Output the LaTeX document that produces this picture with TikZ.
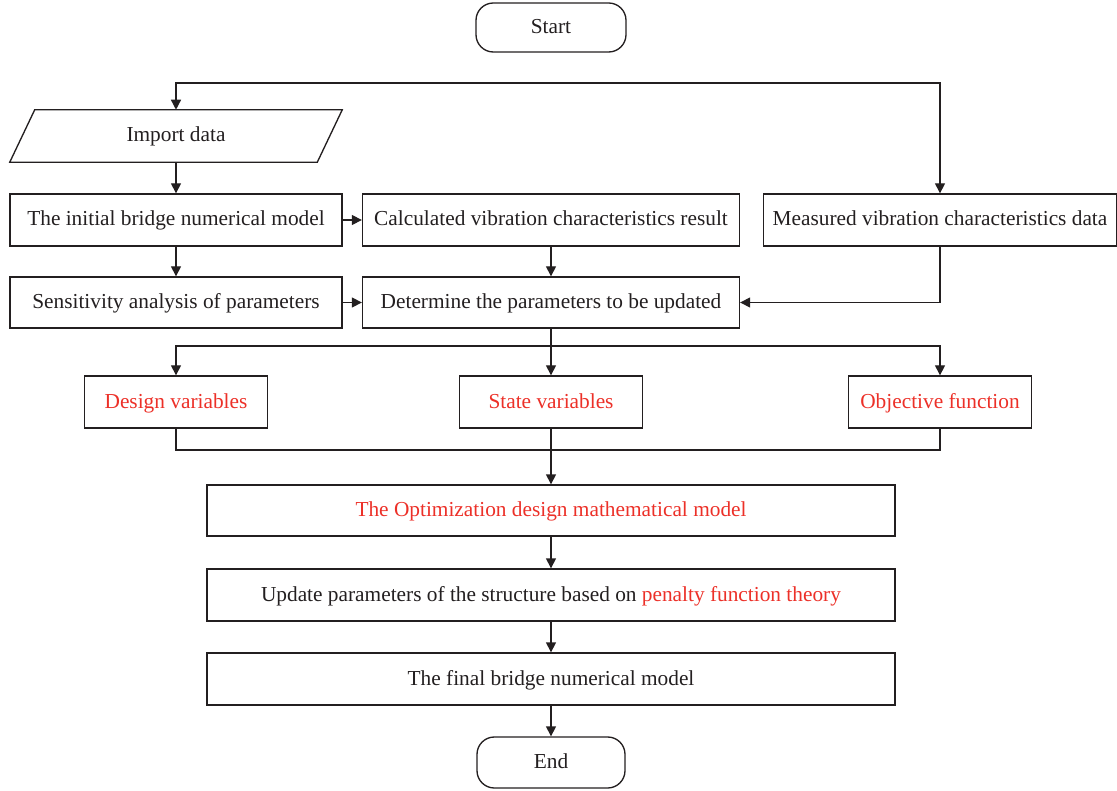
\documentclass[tikz,border=0pt]{standalone}
\usepackage{fontspec}
\setmainfont{Liberation Serif}
\usetikzlibrary{arrows.meta,positioning}
\definecolor{ink}{RGB}{35,31,32}
\definecolor{hl}{RGB}{236,48,40}
\tikzset{
  txt/.style={inner sep=0pt, text=ink, font=\fontsize{16}{18}\selectfont, text height=11pt, text depth=2pt},
  box/.style={txt, draw=ink, line width=1pt, rectangle},
  term/.style={box, rounded corners=13pt},
  arr/.style={draw=ink, line width=1pt, -{Triangle[length=7.5pt,width=7.5pt]}},
  ln/.style={draw=ink, line width=1pt},
}
\begin{document}
\begin{tikzpicture}[x=0.75pt,y=-0.75pt]
\useasboundingbox (0,0) rectangle (1117,791);

\node[term, minimum width=112.5pt, minimum height=36.75pt] (start) at (551,27.5) {Start};

\node[txt, minimum width=230.25pt, minimum height=39pt] (imp) at (176,136) {Import data};
\draw[ln] ([xshift=-9.375pt]imp.south west) -- ([xshift=-9.375pt]imp.south east)
  -- ([xshift=9.375pt]imp.north east) -- ([xshift=9.375pt]imp.north west) -- cycle;

\node[box, minimum width=249pt, minimum height=39pt] (init) at (176,220) {The initial bridge numerical model};
\node[box, minimum width=282.75pt, minimum height=39pt] (calc) at (551,220) {Calculated vibration characteristics result};
\node[box, minimum width=264.75pt, minimum height=39pt] (meas) at (940,220) {Measured vibration characteristics data};

\node[box, minimum width=249pt, minimum height=38.25pt] (sens) at (176,302.5) {Sensitivity analysis of parameters};
\node[box, minimum width=282.75pt, minimum height=38.25pt] (det) at (551,302.5) {Determine the parameters to be updated};

\node[box, text=hl, minimum width=137.25pt, minimum height=39pt] (design) at (176,402) {Design variables};
\node[box, text=hl, minimum width=137.25pt, minimum height=39pt] (state) at (551,402) {State variables};
\node[box, text=hl, minimum width=137.25pt, minimum height=39pt] (obj) at (940,402) {Objective function};

\node[box, text=hl, minimum width=516pt, minimum height=38.25pt] (opt) at (551,510.5) {The Optimization design mathematical model};
\node[box, minimum width=516pt, minimum height=39pt] (upd) at (551,595) {Update parameters of the structure based on \textcolor{hl}{penalty function theory}};
\node[box, minimum width=516pt, minimum height=39pt] (fin) at (551,679) {The final bridge numerical model};

\node[term, minimum width=111pt, minimum height=38.25pt] (end) at (551,762.5) {End};

\coordinate (top) at (551,83);
\coordinate (split) at (551,346);
\coordinate (join) at (551,450);

\draw[arr] (top) -| (imp.north);
\draw[arr] (top) -| (meas.north);
\draw[arr] (imp.south) -- (init.north);
\draw[arr] (init.east) -- (calc.west);
\draw[arr] (init.south) -- (sens.north);
\draw[arr] (calc.south) -- (det.north);
\draw[arr] (sens.east) -- (det.west);
\draw[arr] (meas.south) |- (det.east);

\draw[ln] (det.south) -- (split);
\draw[arr] (split) -| (design.north);
\draw[arr] (split) -| (obj.north);
\draw[arr] (split) -- (state.north);

\draw[ln] (design.south) |- (join);
\draw[ln] (obj.south) |- (join);
\draw[arr] (state.south) -- (opt.north);

\draw[arr] (opt.south) -- (upd.north);
\draw[arr] (upd.south) -- (fin.north);
\draw[arr] (fin.south) -- (end.north);
\end{tikzpicture}
\end{document}
